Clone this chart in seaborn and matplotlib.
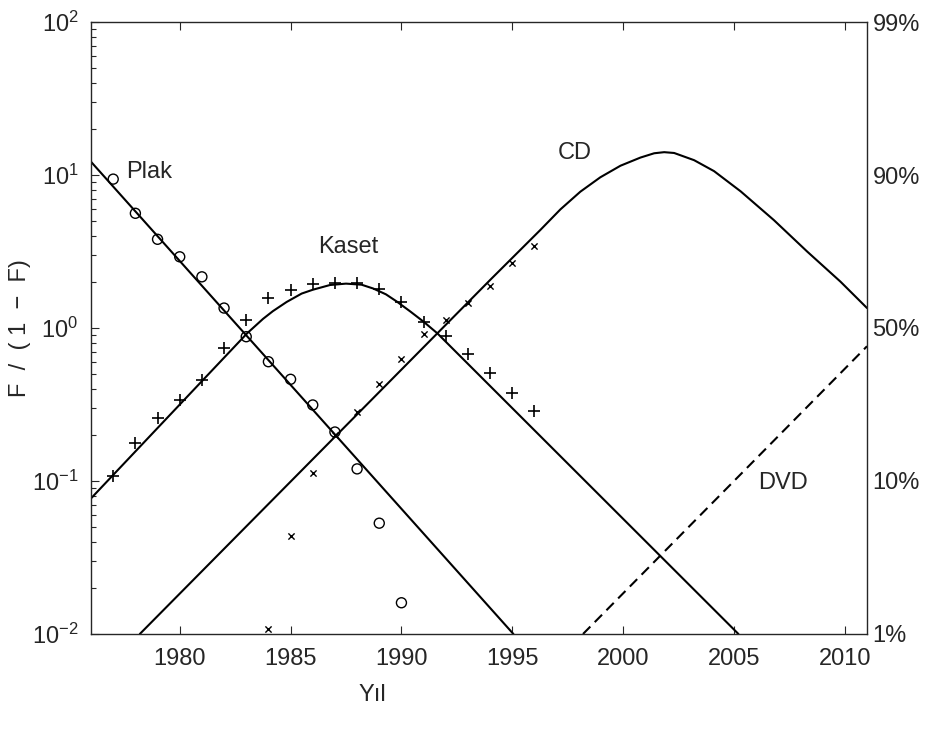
import matplotlib
matplotlib.use("Agg")
import matplotlib.pyplot as plt
import seaborn as sns
from matplotlib.ticker import LogLocator, NullFormatter, FixedLocator, FixedFormatter

# Observed shares, expressed as F / (1 - F)
plak_years = [1977, 1978, 1979, 1980, 1981, 1982, 1983, 1984, 1985, 1986, 1987, 1988, 1989, 1990]
plak_vals = [9.4, 5.62, 3.80, 2.92, 2.16, 1.35, 0.877, 0.602, 0.462, 0.314, 0.209, 0.12, 0.053, 0.016]

kaset_years = [1977, 1978, 1979, 1980, 1981, 1982, 1983, 1984, 1985, 1986,
               1987, 1988, 1989, 1990, 1991, 1992, 1993, 1994, 1995, 1996]
kaset_vals = [0.108, 0.178, 0.26, 0.338, 0.46, 0.736, 1.12, 1.58, 1.77, 1.94,
              1.96, 1.98, 1.80, 1.49, 1.10, 0.887, 0.673, 0.51, 0.374, 0.288]

cd_years = [1984, 1985, 1986, 1987, 1988, 1989, 1990, 1991, 1992, 1993, 1994, 1995, 1996]
cd_vals = [0.0107, 0.044, 0.112, 0.20, 0.284, 0.43, 0.624, 0.92, 1.13, 1.46, 1.89, 2.67, 3.44]

# Fitted substitution curves
plak_fit_years = [1976, 1995.05]
plak_fit = [12.2, 0.01]

kaset_fit_years = [1976, 1983.04, 1983.76, 1984.2, 1984.82, 1985.5, 1986.0, 1986.78, 1987.5,
                   1988.2, 1988.73, 1989.3, 1989.8, 1990.4, 1991.0, 1991.62, 2005.2]
kaset_fit = [0.077, 0.923, 1.148, 1.288, 1.479, 1.679, 1.778, 1.91, 1.95,
             1.919, 1.811, 1.66, 1.486, 1.282, 1.099, 0.923, 0.01]

cd_fit_years = [1978.2, 1994.0, 1996.27, 1997.17, 1998.07, 1998.97, 1999.88, 2000.78, 2001.4,
                2001.85, 2002.3, 2003.2, 2004.1, 2005.3, 2006.8, 2008.3, 2009.8, 2011.0]
cd_fit = [0.01, 2.06, 4.38, 5.96, 7.78, 9.66, 11.5, 13.0, 13.87,
          14.1, 13.93, 12.5, 10.6, 7.82, 5.07, 3.16, 2.01, 1.35]

dvd_fit_years = [1998.19, 2011.0]
dvd_fit = [0.01, 0.76]

x_ticks = [1980, 1985, 1990, 1995, 2000, 2005, 2010]
right_ticks = [0.01, 0.1, 1, 10, 100]
right_labels = ["1%", "10%", "50%", "90%", "99%"]

sns.set_style("ticks")
plt.rcParams["font.family"] = ["Liberation Sans", "DejaVu Sans"]
plt.rcParams["axes.linewidth"] = 1.0

fig = plt.figure(figsize=(9.28, 7.36), dpi=100)
ax = fig.add_axes([0.0981, 0.1386, 0.9343 - 0.0981, 0.9701 - 0.1386])
ax.set_yscale("log")
ax.set_xlim(1976, 2011)
ax.set_ylim(0.01, 100)

line_kw = dict(color="black", linewidth=1.5, estimator=None, sort=False, ax=ax)
sns.lineplot(x=plak_fit_years, y=plak_fit, **line_kw)
sns.lineplot(x=kaset_fit_years, y=kaset_fit, **line_kw)
sns.lineplot(x=cd_fit_years, y=cd_fit, **line_kw)
sns.lineplot(x=dvd_fit_years, y=dvd_fit, linestyle=(0, (5, 3)), **line_kw)

sns.scatterplot(x=plak_years, y=plak_vals, marker="o", s=52, facecolors="none",
                edgecolors="black", linewidth=1.0, ax=ax, zorder=3)
sns.scatterplot(x=kaset_years, y=kaset_vals, marker="+", s=80, color="black",
                linewidth=1.2, ax=ax, zorder=3)
sns.scatterplot(x=cd_years, y=cd_vals, marker="x", s=20, color="black",
                linewidth=1.0, ax=ax, zorder=3)

fs = 17
ax.text(1977.59, 10.5, "Plak", fontsize=fs, ha="left", va="center")
ax.text(1987.59, 3.40, "Kaset", fontsize=fs, ha="center", va="center")
ax.text(1997.80, 14.0, "CD", fontsize=fs, ha="center", va="center")
ax.text(2007.19, 0.0966, "DVD", fontsize=fs, ha="center", va="center")

ax.xaxis.set_major_locator(FixedLocator(x_ticks))
ax.yaxis.set_major_locator(LogLocator(base=10))
ax.yaxis.set_minor_locator(LogLocator(base=10, subs=range(2, 10)))
ax.yaxis.set_minor_formatter(NullFormatter())
ax.tick_params(which="both", direction="in", top=True, right=True, labelsize=fs)
ax.tick_params(which="major", length=6, width=0.8)
ax.tick_params(which="minor", length=3.5, width=0.8)
ax.tick_params(axis="x", pad=10)
ax.tick_params(axis="y", pad=9)

twin = ax.twinx()
twin.set_yscale("log")
twin.set_ylim(ax.get_ylim())
twin.yaxis.set_major_locator(FixedLocator(right_ticks))
twin.yaxis.set_major_formatter(FixedFormatter(right_labels))
twin.yaxis.set_minor_locator(FixedLocator([]))
twin.tick_params(axis="y", which="both", length=0, pad=4, labelsize=fs)
for s in twin.spines.values():
    s.set_visible(False)

ax.set_xlabel("Yıl", fontsize=fs)
ax.xaxis.set_label_coords(0.363, -0.082)
ax.xaxis.label.set_va("top")
ax.set_ylabel("F  /  ( 1  −  F)", fontsize=fs)
ax.yaxis.set_label_coords(-0.077, 0.5)

fig.savefig("out.png", dpi=100)
